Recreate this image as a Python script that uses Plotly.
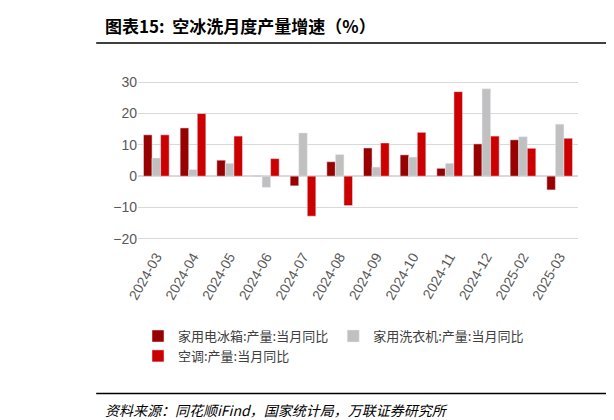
import plotly.graph_objects as go

months = ["2024-03","2024-04","2024-05","2024-06","2024-07","2024-08","2024-09","2024-10","2024-11","2024-12","2025-02","2025-03"]
fridge = [13.2,15.4,5.1,0.1,-3.1,4.6,9.0,6.8,2.5,10.3,11.6,-4.4]
washer = [5.8,2.1,4.1,-3.6,13.8,6.9,2.9,6.1,4.1,27.9,12.6,16.6]
ac = [13.2,20.0,12.8,5.6,-12.8,-9.4,10.6,14.0,27.0,12.8,8.9,12.1]

fig = go.Figure()
fig.add_bar(x=months, y=fridge, name="家用电冰箱:产量:当月同比", marker_color="#990000")
fig.add_bar(x=months, y=washer, name="家用洗衣机:产量:当月同比", marker_color="#c0c0c0")
fig.add_bar(x=months, y=ac, name="空调:产量:当月同比", marker_color="#cc0000")

fig.update_layout(
    width=614, height=420, plot_bgcolor="white", paper_bgcolor="white",
    margin=dict(l=130, r=44, t=68, b=183),
    bargap=0.3, bargroupgap=0,
    font=dict(family="Noto Sans CJK SC", color="#595959", size=13),
    legend=dict(orientation="h", x=0.0, y=-0.45, xanchor="left", yanchor="top",
                font=dict(size=13, color="#404040"), tracegroupgap=0),
    showlegend=True,
)
fig.update_yaxes(range=[-22, 32], tickvals=[-20,-10,0,10,20,30], showgrid=True,
                 gridcolor="#d9d9d9", zeroline=True, zerolinecolor="#d9d9d9",
                 tickfont=dict(family="Liberation Sans", size=14, color="#595959"))
fig.update_xaxes(type="category", tickangle=-60,
                 tickfont=dict(family="Liberation Sans", size=14, color="#595959"))

fig.add_annotation(text="<b>图表15:  空冰洗月度产量增速（%）</b>", xref="paper", yref="paper",
                   x=-0.08, y=1.30, xanchor="left", yanchor="middle", showarrow=False,
                   font=dict(size=17, color="#000000"))
fig.add_annotation(text="<i>资料来源：同花顺iFind，国家统计局，万联证券研究所</i>", xref="paper", yref="paper",
                   x=-0.08, y=-0.976, xanchor="left", yanchor="middle", showarrow=False,
                   font=dict(size=14, color="#000000"))
fig.add_shape(type="line", xref="paper", yref="paper", x0=-0.095, x1=1.1, y0=1.195, y1=1.195,
              line=dict(color="#000000", width=1.5))
fig.add_shape(type="line", xref="paper", yref="paper", x0=-0.095, x1=1.1, y0=-0.878, y1=-0.878,
              line=dict(color="#000000", width=1.5))
fig.write_html("out.html")
